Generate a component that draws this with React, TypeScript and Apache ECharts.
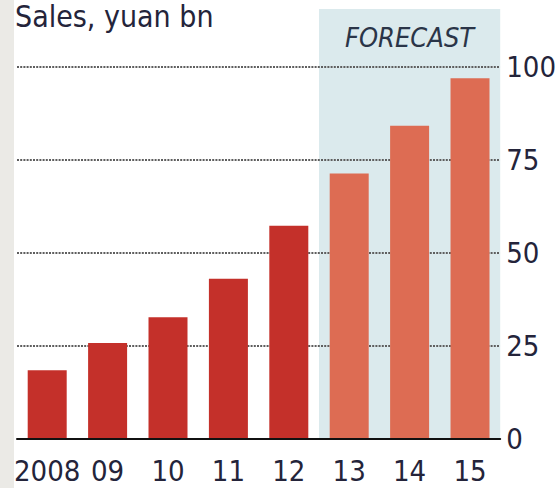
import React, { useEffect, useRef } from "react";
import * as echarts from "echarts";

const categories = ["2008", "09", "10", "11", "12", "13", "14", "15"];
const sales = [18.5, 25.8, 32.7, 43.1, 57.3, 71.4, 84.2, 97.0];
const isForecast = [false, false, false, false, false, true, true, true];
const yTicks = [0, 25, 50, 75, 100];

const FONT = "'DejaVu Sans Condensed', 'Liberation Sans', sans-serif";
const TEXT = "#24243a";

export default function App() {
  const ref = useRef<HTMLDivElement>(null);
  useEffect(() => {
    if (!ref.current) return;
    document.body.style.margin = "0";
    const chart = echarts.init(ref.current, null, { renderer: "svg" });
    chart.setOption({
      animation: false,
      backgroundColor: "#ffffff",
      grid: { left: 17, right: 54, top: 67, bottom: 49, containLabel: false },
      xAxis: {
        type: "category",
        data: categories,
        boundaryGap: true,
        axisLine: { show: true, lineStyle: { color: "#111111", width: 2 } },
        axisTick: { show: false },
        axisLabel: { interval: 0, color: TEXT, fontFamily: FONT, fontSize: 29, margin: 17 },
        z: 5,
      },
      yAxis: {
        type: "value",
        position: "right",
        min: yTicks[0],
        max: yTicks[yTicks.length - 1],
        interval: 25,
        axisLine: { show: false },
        axisTick: { show: false },
        axisLabel: { color: TEXT, fontFamily: FONT, fontSize: 29, margin: 6 },
        splitLine: { show: true, lineStyle: { color: "#5e5e5e", width: 2, type: [2, 1.2] } },
      },
      series: [
        {
          type: "bar",
          barWidth: 39,
          data: sales.map((v, i) => ({
            value: v,
            itemStyle: { color: isForecast[i] ? "#dd6c53" : "#c4302a" },
          })),
          z: 3,
        },
      ],
    });

    const firstF = isForecast.indexOf(true);
    const pPrev = chart.convertToPixel({ xAxisIndex: 0 }, categories[firstF - 1]) as number;
    const pFirst = chart.convertToPixel({ xAxisIndex: 0 }, categories[firstF]) as number;
    const pLast = chart.convertToPixel({ xAxisIndex: 0 }, categories[categories.length - 1]) as number;
    const band = pFirst - pPrev;
    const left = (pPrev + pFirst) / 2;
    const right = pLast + band / 2;
    const bottom = chart.convertToPixel({ yAxisIndex: 0 }, 0) as number;
    const top = 9;

    chart.setOption({
      graphic: [
        {
          type: "rect",
          z: -10,
          shape: { x: 0, y: 0, width: 14, height: 488 },
          style: { fill: "#ebeae6" },
          silent: true,
        },
        {
          type: "rect",
          z: -10,
          shape: { x: left, y: top, width: right - left, height: bottom - top },
          style: { fill: "#dbeaed" },
          silent: true,
        },
        {
          type: "text",
          z: 10,
          x: (left + right) / 2,
          y: 37,
          style: {
            text: "FORECAST",
            fill: "#2a3548",
            font: `italic 27px ${FONT}`,
            textAlign: "center",
            textVerticalAlign: "middle",
          },
        },
        {
          type: "text",
          z: 10,
          x: 15,
          y: 16,
          style: {
            text: "Sales, yuan bn",
            fill: TEXT,
            font: `30px ${FONT}`,
            textAlign: "left",
            textVerticalAlign: "middle",
          },
        },
      ],
    });

    return () => chart.dispose();
  }, []);
  return <div ref={ref} style={{ width: 559, height: 488 }} />;
}
